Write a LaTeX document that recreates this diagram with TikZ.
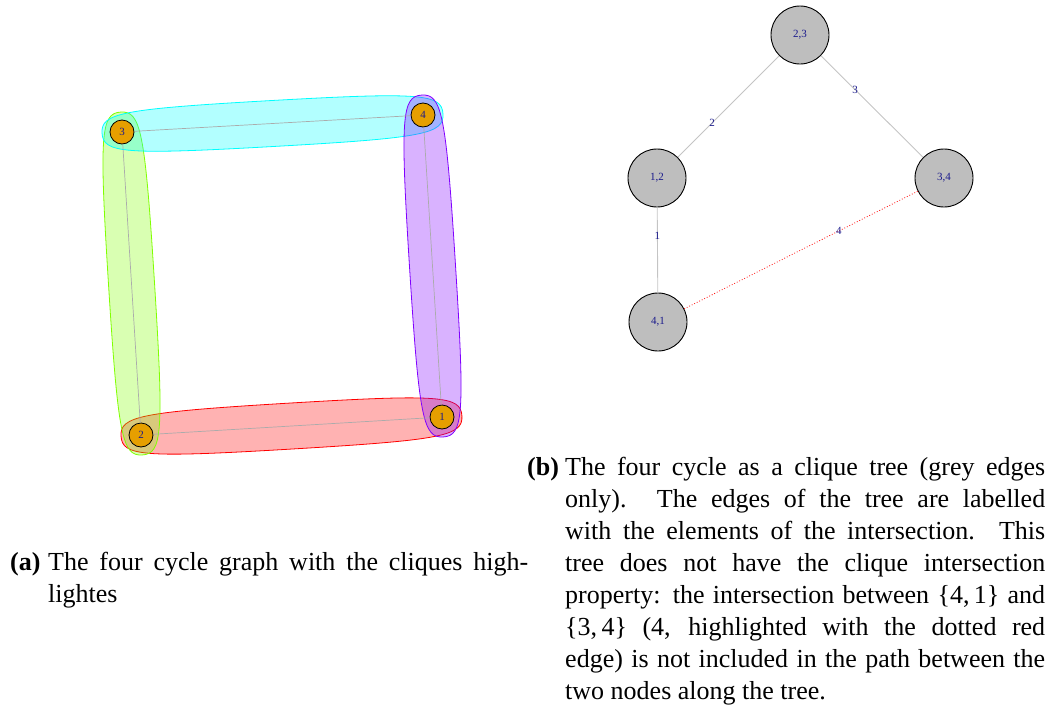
\documentclass[tikz,border=0pt]{standalone}
\usepackage{fontspec}
\setmainfont{Liberation Serif}
\definecolor{vorange}{HTML}{E69F00}
\definecolor{lblue}{HTML}{1A1A8C}
\definecolor{cgrey}{HTML}{BEBEBE}
\definecolor{egrey}{HTML}{ABABAB}
\definecolor{tgrey}{HTML}{C4C4C4}
\definecolor{hred}{HTML}{FF0000}
\definecolor{hgreen}{HTML}{80FF00}
\definecolor{hcyan}{HTML}{00FFFF}
\definecolor{hpurple}{HTML}{8000FF}
\newcommand\cliquehull[4]{%
  \begin{scope}[shift={(#2)},rotate=#3]
    \draw[draw=#1, fill=#1, fill opacity=0.3, line width=0.8pt]
      (-20,0) .. controls (-20,-20) and (0,-23) .. (#4/2,-23)
      .. controls (#4,-23) and (#4+20,-20) .. (#4+20,0)
      .. controls (#4+20,20) and (#4,23) .. (#4/2,23)
      .. controls (0,23) and (-20,20) .. cycle;
  \end{scope}}
\begin{document}
\begin{tikzpicture}[x=1pt,y=1pt,
  vtx/.style={circle, draw=black, line width=0.8pt, fill=vorange, minimum size=24pt, inner sep=0pt, font=\fontsize{11}{13}\selectfont, text=lblue},
  clq/.style={circle, draw=black, line width=0.9pt, fill=cgrey, minimum size=58pt, inner sep=0pt, font=\fontsize{11}{13}\selectfont, text=lblue},
  gedge/.style={draw=egrey, line width=0.7pt},
  tedge/.style={draw=tgrey, line width=0.9pt},
  redge/.style={draw=hred, dotted, line width=0.8pt},
  elabel/.style={font=\fontsize{11}{13}\selectfont, text=lblue, inner sep=0pt},
  capt/.style={anchor=north west, inner sep=0pt, text width=518pt, align=justify, font=\fontsize{26}{32}\selectfont}]
\useasboundingbox (0,0) rectangle (1052,-707);
% vertex positions (left graph)
\coordinate (p1) at (442,-417);
\coordinate (p2) at (141,-435);
\coordinate (p3) at (122,-132);
\coordinate (p4) at (423,-115);
% clique hulls
\cliquehull{hred}{p2}{3.42}{301.5}
\cliquehull{hgreen}{p2}{93.59}{303.6}
\cliquehull{hcyan}{p3}{3.23}{301.5}
\cliquehull{hpurple}{p1}{93.6}{302.6}
% vertices
\node[vtx] (v1) at (p1) {1};
\node[vtx] (v2) at (p2) {2};
\node[vtx] (v3) at (p3) {3};
\node[vtx] (v4) at (p4) {4};
\draw[gedge] (v1) -- (v2);
\draw[gedge] (v2) -- (v3);
\draw[gedge] (v3) -- (v4);
\draw[gedge] (v4) -- (v1);
% clique tree
\node[clq] (c23) at (800,-35) {2,3};
\node[clq] (c12) at (657,-178) {1,2};
\node[clq] (c34) at (944,-178) {3,4};
\node[clq] (c41) at (658,-322) {4,1};
\draw[tedge] (c23) -- node[elabel, pos=0.661] {2} (c12);
\draw[tedge] (c23) -- node[elabel, pos=0.334] {3} (c34);
\draw[tedge] (c12) -- node[elabel, pos=0.337] {1} (c41);
\draw[redge] (c41) -- node[elabel, pos=0.662] {4} (c34);
% captions
\node[capt] (capa) at (10,-547.6) {\hangindent=38pt\hangafter=1\strut\makebox[38pt][l]{\textbf{(a)}}The four cycle graph with the cliques high-\linebreak lightes\par};
\node[capt] (capb) at (527,-452.6) {\hangindent=38pt\hangafter=1\strut\makebox[38pt][l]{\textbf{(b)}}The four cycle as a clique tree (grey edges\linebreak only). The edges of the tree are labelled\linebreak with the elements of the intersection. This\linebreak tree does not have the clique intersection\linebreak property: the intersection between \{4,\,1\} and\linebreak \{3,\,4\} (4, highlighted with the dotted red\linebreak edge) is not included in the path between the\linebreak two nodes along the tree.\par};
\end{tikzpicture}
\end{document}
